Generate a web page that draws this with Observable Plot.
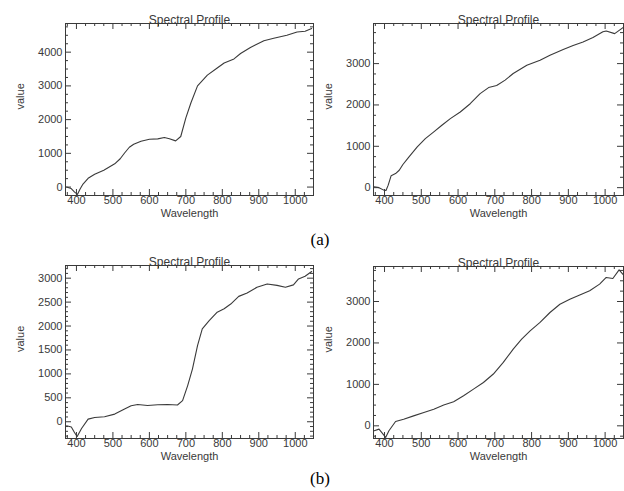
<!DOCTYPE html>
<html><head><meta charset="utf-8">
<script src="https://cdn.jsdelivr.net/npm/d3@7"></script>
<script src="https://cdn.jsdelivr.net/npm/@observablehq/plot@0.6"></script>
<style>
body{margin:0;background:#fff;}
#root{position:relative;width:624px;height:491px;overflow:hidden;background:#fff;}
.panel{position:absolute;}
.cap{position:absolute;font-family:"Liberation Serif","Times New Roman",serif;font-size:17px;line-height:20px;color:#000;width:60px;text-align:center;}
</style></head><body><div id="root"></div>
<script>
// ---- data ----
const titleText = "Spectral Profile";
const xLabel = "Wavelength";
const yLabel = "value";
const captions = ["(a)", "(b)"];

const xMajorTicks = [400, 500, 600, 700, 800, 900, 1000];
const xMinorTicks = [375, 425, 450, 475, 525, 550, 575, 625, 650, 675, 725, 750, 775, 825, 850, 875, 925, 950, 975, 1025];

// (a) left
const waveA1 = [373, 385, 395, 403, 410, 418, 432, 450, 475, 505, 520, 532, 545, 557, 577, 600, 623, 641, 655, 672, 686, 700, 714, 732, 759, 786, 805, 832, 850, 877, 914, 941, 977, 1005, 1027, 1045];
const valueA1 = [0, -40, -150, -215, -60, 90, 260, 380, 500, 690, 840, 1010, 1180, 1270, 1360, 1420, 1430, 1470, 1430, 1370, 1500, 2050, 2500, 3000, 3320, 3530, 3680, 3800, 3960, 4140, 4340, 4410, 4500, 4600, 4620, 4700];
const yTicksA1 = [0, 1000, 2000, 3000, 4000];
const yMinorA1 = [-250, 250, 500, 750, 1250, 1500, 1750, 2250, 2500, 2750, 3250, 3500, 3750, 4250, 4500, 4750];

// (a) right
const waveA2 = [372, 385, 398, 404, 410, 418, 430, 440, 450, 466, 489, 511, 534, 556, 579, 606, 633, 660, 683, 705, 728, 750, 787, 823, 850, 886, 913, 940, 967, 994, 1003, 1026, 1050];
const valueA2 = [20, 0, -60, -70, 60, 290, 340, 420, 560, 740, 985, 1185, 1350, 1510, 1670, 1830, 2030, 2275, 2420, 2470, 2600, 2760, 2960, 3080, 3200, 3340, 3440, 3525, 3630, 3770, 3790, 3725, 3880];
const yTicksA2 = [0, 1000, 2000, 3000];
const yMinorA2 = [250, 500, 750, 1250, 1500, 1750, 2250, 2500, 2750, 3250, 3500, 3750];

// (b) left
const waveB1 = [373, 386, 395, 402, 414, 432, 450, 477, 505, 532, 550, 568, 595, 623, 650, 677, 691, 705, 718, 732, 745, 764, 786, 805, 823, 845, 868, 895, 923, 950, 973, 995, 1009, 1027, 1045];
const valueB1 = [-85, -110, -230, -307, -140, 55, 90, 105, 160, 265, 335, 360, 340, 355, 360, 350, 440, 755, 1100, 1590, 1940, 2115, 2290, 2360, 2460, 2620, 2690, 2810, 2880, 2850, 2810, 2860, 2985, 3040, 3140];
const yTicksB1 = [0, 500, 1000, 1500, 2000, 2500, 3000];
const yMinorB1 = [-300, -200, -100, 100, 200, 300, 400, 600, 700, 800, 900, 1100, 1200, 1300, 1400, 1600, 1700, 1800, 1900, 2100, 2200, 2300, 2400, 2600, 2700, 2800, 2900, 3100, 3200];

// (b) right
const waveB2 = [372, 385, 396, 403, 412, 430, 452, 479, 507, 534, 561, 588, 615, 642, 669, 696, 723, 750, 773, 796, 823, 850, 877, 904, 931, 958, 985, 1003, 1021, 1038, 1050];
const valueB2 = [-120, -80, -200, -280, -120, 105, 160, 240, 320, 400, 500, 580, 725, 885, 1045, 1250, 1530, 1850, 2090, 2290, 2495, 2735, 2935, 3055, 3160, 3260, 3420, 3580, 3555, 3765, 3640];
const yTicksB2 = [0, 1000, 2000, 3000];
const yMinorB2 = [-250, 250, 500, 750, 1250, 1500, 1750, 2250, 2500, 2750, 3250, 3500, 3750];

// ---- drawing ----
const ink = "#3a3a3a";
const root = document.getElementById("root");
const MAJ = 6, MIN = 3;

function panel(waves, values, yDomain, yMajor, yMinor, box) {
  const data = waves.map((w, i) => ({w, v: values[i]}));
  const fmt = d => String(d);
  const fw = box.width - box.ml - box.mr;   // frame width in px
  const fh = box.height - box.mt - box.mb;  // frame height in px
  const id = d => d;
  const chart = Plot.plot({
    width: box.width,
    height: box.height,
    marginTop: box.mt,
    marginBottom: box.mb,
    marginLeft: box.ml,
    marginRight: box.mr,
    style: {fontFamily: "'Liberation Sans', Arial, sans-serif", fontSize: "11px", color: ink, background: "transparent", overflow: "visible"},
    x: {domain: [370, 1050]},
    y: {domain: yDomain},
    marks: [
      Plot.line(data, {x: "w", y: "v", stroke: ink, strokeWidth: 1.1, clip: true}),
      Plot.frame({stroke: ink, strokeWidth: 1}),
      // inward x ticks: bottom edge, then top edge
      Plot.tickX(xMinorTicks, {x: id, insetTop: fh - MIN, stroke: ink}),
      Plot.tickX(xMinorTicks, {x: id, insetBottom: fh - MIN, stroke: ink}),
      Plot.tickX(xMajorTicks, {x: id, insetTop: fh - MAJ, stroke: ink}),
      Plot.tickX(xMajorTicks, {x: id, insetBottom: fh - MAJ, stroke: ink}),
      // inward y ticks: left edge, then right edge
      Plot.tickY(yMinor, {y: id, insetRight: fw - MIN, stroke: ink}),
      Plot.tickY(yMinor, {y: id, insetLeft: fw - MIN, stroke: ink}),
      Plot.tickY(yMajor, {y: id, insetRight: fw - MAJ, stroke: ink}),
      Plot.tickY(yMajor, {y: id, insetLeft: fw - MAJ, stroke: ink}),
      // tick labels
      Plot.axisX(xMajorTicks, {anchor: "bottom", tickSize: 0, tickPadding: 1, tickFormat: fmt, label: null, fill: ink}),
      Plot.axisY(yMajor, {anchor: "left", tickSize: 0, tickPadding: 3, tickFormat: fmt, label: null, fill: ink}),
      // titles
      Plot.text([titleText], {text: id, frameAnchor: "top", dy: -8, fontSize: 12, fill: ink}),
      Plot.text([xLabel], {text: id, frameAnchor: "bottom", dy: 21, fontSize: 11, fill: ink}),
      Plot.text([yLabel], {text: id, frameAnchor: "left", dx: -45, rotate: -90, fontSize: 11, fill: ink})
    ]
  });
  chart.classList.add("panel");
  chart.style.left = box.left + "px";
  chart.style.top = box.top + "px";
  root.appendChild(chart);
}

panel(waveA1, valueA1, [-250, 4850], yTicksA1, yMinorA1, {left: 0, top: 0, width: 314, height: 245, mt: 23, mb: 50, ml: 65, mr: 1});
panel(waveA2, valueA2, [-190, 3970], yTicksA2, yMinorA2, {left: 312, top: 0, width: 312, height: 245, mt: 23, mb: 50, ml: 61, mr: 1});
panel(waveB1, valueB1, [-350, 3265], yTicksB1, yMinorB1, {left: 0, top: 245, width: 314, height: 246, mt: 20, mb: 53, ml: 65, mr: 1});
panel(waveB2, valueB2, [-306, 3845], yTicksB2, yMinorB2, {left: 312, top: 245, width: 312, height: 246, mt: 21, mb: 53, ml: 61, mr: 1});

const capTops = [230, 469];
captions.forEach((c, i) => {
  const d = document.createElement("div");
  d.className = "cap";
  d.textContent = c;
  d.style.left = "290px";
  d.style.top = capTops[i] + "px";
  root.appendChild(d);
});
</script>
</body></html>
